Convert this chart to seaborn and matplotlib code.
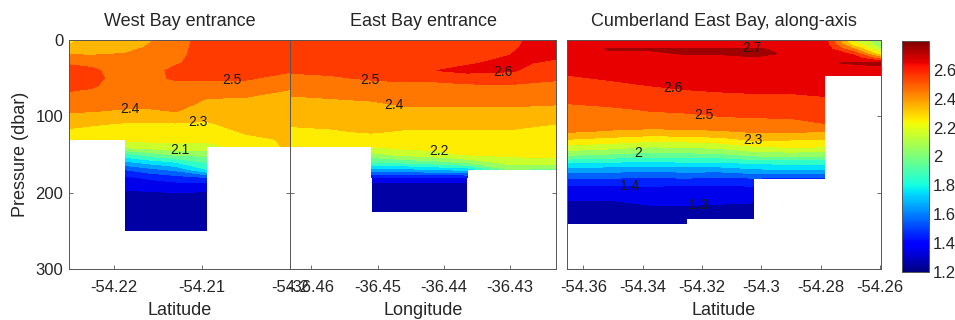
import numpy as np
import matplotlib
matplotlib.use("Agg")
import matplotlib.pyplot as plt
import seaborn as sns
from matplotlib.colors import Normalize
from matplotlib.cm import ScalarMappable
from matplotlib.ticker import FuncFormatter

sns.set_theme(style="ticks")
plt.rcParams["font.family"] = ["Liberation Sans", "DejaVu Sans"]

# ---------------- West Bay entrance (stations by latitude) ----------------
west_lat = [-54.2251, -54.2225, -54.2187, -54.2160, -54.2130, -54.2095, -54.2050, -54.2000]
west_pressure = [0, 10, 20, 30, 40, 50, 60, 70, 80, 90, 100, 110, 120, 130,
                 140, 150, 160, 170, 180, 190, 200, 210, 220, 230, 240, 250]
west_temp = [
    [2.28, 2.31, 2.41, 2.49, 2.53, 2.54, 2.53, 2.49, 2.46, 2.42, 2.38, 2.33, 2.28, 2.24],
    [2.34, 2.36, 2.40, 2.47, 2.52, 2.53, 2.51, 2.48, 2.45, 2.42, 2.37, 2.31, 2.27, 2.24],
    [2.33, 2.37, 2.41, 2.43, 2.44, 2.45, 2.45, 2.44, 2.42, 2.40, 2.35, 2.29, 2.26, 2.23,
     2.13, 1.87, 1.68, 1.50, 1.38, 1.33, 1.29, 1.27, 1.26, 1.25, 1.25, 1.25],
    [2.39, 2.41, 2.43, 2.45, 2.47, 2.48, 2.47, 2.45, 2.42, 2.40, 2.34, 2.29, 2.26, 2.23,
     2.15, 1.95, 1.74, 1.56, 1.42, 1.34, 1.29, 1.27, 1.26, 1.25, 1.25, 1.25],
    [2.45, 2.46, 2.47, 2.49, 2.52, 2.51, 2.48, 2.46, 2.44, 2.42, 2.37, 2.29, 2.26, 2.23,
     2.17, 2.02, 1.80, 1.62, 1.46, 1.36, 1.30, 1.27, 1.26, 1.25, 1.25, 1.25],
    [2.55, 2.55, 2.55, 2.54, 2.53, 2.51, 2.47, 2.42, 2.39, 2.35, 2.32, 2.29, 2.26, 2.23,
     2.15, 2.03, 1.91, 1.79, 1.50, 1.36, 1.29, 1.27, 1.26, 1.25, 1.25, 1.25],
    [2.58, 2.58, 2.57, 2.56, 2.54, 2.51, 2.47, 2.42, 2.38, 2.37, 2.35, 2.33, 2.31, 2.28, 2.26],
    [2.56, 2.56, 2.55, 2.53, 2.51, 2.47, 2.42, 2.38, 2.36, 2.35, 2.34, 2.33, 2.32, 2.31, 2.31],
]
west_ticks = [-54.22, -54.21, -54.20]
west_labels = [(2.5, -54.2066, 52), (2.4, -54.2182, 88), (2.3, -54.2105, 105), (2.1, -54.2125, 147)]

# ---------------- East Bay entrance (stations by longitude) ----------------
east_lon = [-36.4632, -36.4570, -36.4509, -36.4460, -36.4410, -36.4365, -36.4300, -36.4231]
east_pressure = [0, 10, 20, 30, 40, 50, 60, 70, 80, 90, 100, 110, 120, 130,
                 140, 150, 160, 170, 180, 190, 200, 210, 220, 225]
east_temp = [
    [2.57, 2.57, 2.56, 2.54, 2.51, 2.48, 2.45, 2.41, 2.38, 2.36, 2.34, 2.31, 2.28, 2.26, 2.24],
    [2.58, 2.58, 2.57, 2.55, 2.52, 2.49, 2.46, 2.42, 2.39, 2.37, 2.35, 2.32, 2.29, 2.26, 2.24],
    [2.59, 2.59, 2.58, 2.56, 2.54, 2.51, 2.47, 2.44, 2.40, 2.37, 2.35, 2.33, 2.31, 2.26,
     2.20, 2.07, 1.90, 1.65, 1.40, 1.27, 1.25, 1.24, 1.24, 1.24],
    [2.59, 2.59, 2.58, 2.57, 2.55, 2.52, 2.48, 2.45, 2.42, 2.39, 2.36, 2.33, 2.29, 2.26,
     2.23, 2.13, 1.93, 1.66, 1.40, 1.27, 1.25, 1.24, 1.24, 1.24],
    [2.60, 2.60, 2.59, 2.58, 2.60, 2.52, 2.48, 2.45, 2.42, 2.39, 2.36, 2.32, 2.29, 2.26,
     2.23, 2.17, 1.97, 1.70, 1.40, 1.27, 1.25, 1.24, 1.24, 1.24],
    [2.58, 2.58, 2.58, 2.59, 2.62, 2.56, 2.48, 2.46, 2.43, 2.39, 2.36, 2.33, 2.29, 2.26,
     2.24, 2.21, 2.03, 1.72, 1.40, 1.27, 1.25, 1.24, 1.24, 1.24],
    [2.58, 2.59, 2.60, 2.62, 2.61, 2.55, 2.49, 2.46, 2.43, 2.39, 2.36, 2.33, 2.29, 2.27,
     2.25, 2.22, 2.15, 2.00],
    [2.65, 2.64, 2.62, 2.58, 2.55, 2.51, 2.48, 2.45, 2.42, 2.38, 2.34, 2.30, 2.28, 2.26,
     2.24, 2.23, 2.16, 1.95],
]
east_ticks = [-36.46, -36.45, -36.44, -36.43]
east_labels = [(2.5, -36.4512, 55), (2.4, -36.4477, 89), (2.2, -36.4409, 148), (2.6, -36.4311, 37)]

# ---------------- Cumberland East Bay, along-axis (stations by latitude) ----------------
cumb_lat = [-54.3655, -54.3510, -54.3375, -54.3254, -54.3139, -54.3025,
            -54.2904, -54.2786, -54.2691, -54.2597]
cumb_pressure = [0, 6, 12, 18, 24, 30, 38, 46, 60, 70, 80, 90, 100, 110, 120, 130,
                 140, 150, 160, 170, 181, 190, 200, 210, 220, 234, 240]
cumb_temp = [
    [2.64, 2.65, 2.66, 2.665, 2.66, 2.65, 2.63, 2.60, 2.56, 2.54, 2.51, 2.48, 2.46, 2.43,
     2.41, 2.30, 2.17, 2.02, 1.82, 1.65, 1.50, 1.40, 1.35, 1.30, 1.28, 1.26, 1.25],
    [2.64, 2.66, 2.706, 2.69, 2.67, 2.66, 2.64, 2.62, 2.58, 2.56, 2.53, 2.49, 2.465, 2.44,
     2.39, 2.27, 2.14, 1.99, 1.80, 1.64, 1.50, 1.40, 1.34, 1.30, 1.28, 1.26, 1.25],
    [2.64, 2.67, 2.706, 2.69, 2.68, 2.67, 2.65, 2.63, 2.60, 2.58, 2.55, 2.51, 2.48, 2.45,
     2.37, 2.24, 2.10, 1.96, 1.79, 1.63, 1.49, 1.41, 1.36, 1.32, 1.29, 1.27, 1.26],
    [2.64, 2.67, 2.706, 2.704, 2.68, 2.67, 2.66, 2.64, 2.61, 2.59, 2.56, 2.52, 2.485, 2.45,
     2.38, 2.25, 2.11, 1.97, 1.80, 1.64, 1.50, 1.40, 1.35, 1.32, 1.29, 1.27, 1.26],
    [2.64, 2.67, 2.705, 2.705, 2.68, 2.67, 2.66, 2.645, 2.62, 2.595, 2.57, 2.53, 2.50, 2.45,
     2.39, 2.27, 2.13, 1.98, 1.80, 1.64, 1.48, 1.40, 1.35, 1.31, 1.29, 1.26],
    [2.64, 2.67, 2.71, 2.72, 2.69, 2.67, 2.65, 2.64, 2.62, 2.60, 2.57, 2.54, 2.51, 2.46,
     2.41, 2.32, 2.19, 2.04, 1.83, 1.68, 1.50, 1.41, 1.35, 1.31, 1.28, 1.26],
    [2.64, 2.66, 2.68, 2.69, 2.695, 2.68, 2.66, 2.64, 2.62, 2.60, 2.57, 2.54, 2.51, 2.47,
     2.41, 2.31, 2.21, 2.05, 1.84, 1.70, 1.48],
    [2.64, 2.65, 2.66, 2.68, 2.69, 2.695, 2.68, 2.65, 2.62, 2.61, 2.585, 2.55, 2.53, 2.498,
     2.40, 2.31, 2.20, 2.04, 1.84, 1.70, 1.48],
    [2.18, 2.26, 2.42, 2.58, 2.66, 2.705, 2.68, 2.64],
    [2.02, 2.05, 2.10, 2.21, 2.45, 2.71, 2.69, 2.65],
]
cumb_ticks = [-54.36, -54.34, -54.32, -54.30, -54.28, -54.26]
cumb_labels = [(2.7, -54.3031, 13), (2.6, -54.3298, 64), (2.5, -54.3193, 100),
               (2.3, -54.3031, 134), (2.0, -54.3416, 151), (1.4, -54.3443, 194),
               (1.3, -54.3213, 218)]

# colour scale
t_min, t_max = 1.2, 2.8
cbar_ticks = [1.2, 1.4, 1.6, 1.8, 2.0, 2.2, 2.4, 2.6]
levels = np.round(np.arange(t_min, t_max + 0.05, 0.1), 1)
cmap = matplotlib.colormaps["jet"]
norm = Normalize(vmin=t_min, vmax=t_max)

sections = [
    ("West Bay entrance", "Latitude", west_lat, west_pressure, west_temp, west_ticks, west_labels),
    ("East Bay entrance", "Longitude", east_lon, east_pressure, east_temp, east_ticks, east_labels),
    ("Cumberland East Bay, along-axis", "Latitude", cumb_lat, cumb_pressure, cumb_temp,
     cumb_ticks, cumb_labels),
]


def section_grid(profiles, n_levels):
    """Stack station profiles into a pressure x station grid; below the seabed stays masked."""
    grid = np.full((n_levels, len(profiles)), np.nan)
    for j, prof in enumerate(profiles):
        grid[:len(prof), j] = prof
    return np.ma.masked_invalid(grid)


W, H = 955, 320
fig = plt.figure(figsize=(W / 100, H / 100), dpi=100)
fig.patch.set_facecolor("white")

panel_px = [(69, 290), (290, 556), (567, 881)]
top_px, bottom_px = 40, 269
fmt = FuncFormatter(lambda v, p: f"{v:g}")
spine_col = "#555555"

for i, ((title, xlabel, xs, pres, temps, ticks, labels), (x0, x1)) in enumerate(zip(sections, panel_px)):
    ax = fig.add_axes([x0 / W, 1 - bottom_px / H, (x1 - x0) / W, (bottom_px - top_px) / H])
    z = section_grid(temps, len(pres))
    ax.contourf(xs, pres, z, levels=levels, cmap=cmap, norm=norm, corner_mask=False)
    for lev, lx, ly in labels:
        cs = ax.contour(xs, pres, z, levels=[lev], linewidths=0, colors="k", corner_mask=False)
        texts = ax.clabel(cs, [lev], manual=[(lx, ly)], inline=False, fontsize=10,
                          colors="k", fmt=lambda v: f"{v:g}")
        for t in texts:
            t.set_rotation(0)
    ax.set_xlim(xs[0], xs[-1])
    ax.set_ylim(300, 0)
    ax.set_yticks([0, 100, 200, 300])
    ax.set_xticks(ticks)
    ax.xaxis.set_major_formatter(fmt)
    ax.set_title(title, fontsize=13, pad=10)
    ax.set_xlabel(xlabel, fontsize=13, labelpad=5)
    ax.tick_params(direction="in", top=True, right=True, length=3, width=0.6,
                   color=spine_col, labelsize=12, pad=8)
    if i == 0:
        ax.set_ylabel("Pressure (dbar)", fontsize=13, labelpad=5)
        ax.tick_params(axis="y", pad=4)
    else:
        ax.tick_params(labelleft=False)
    for sp in ax.spines.values():
        sp.set_color(spine_col)
        sp.set_linewidth(0.7)
    ax.set_facecolor("white")

cax = fig.add_axes([902 / W, 1 - 272 / H, 27 / W, 231 / H])
cb = fig.colorbar(ScalarMappable(norm=norm, cmap=cmap), cax=cax, ticks=cbar_ticks)
cb.ax.yaxis.set_major_formatter(fmt)
cb.ax.tick_params(direction="in", length=3, width=0.6, color=spine_col, labelsize=12, pad=3,
                  left=True, right=True)
cb.outline.set_edgecolor(spine_col)
cb.outline.set_linewidth(0.7)

fig.savefig("out.png", dpi=100, facecolor="white")
